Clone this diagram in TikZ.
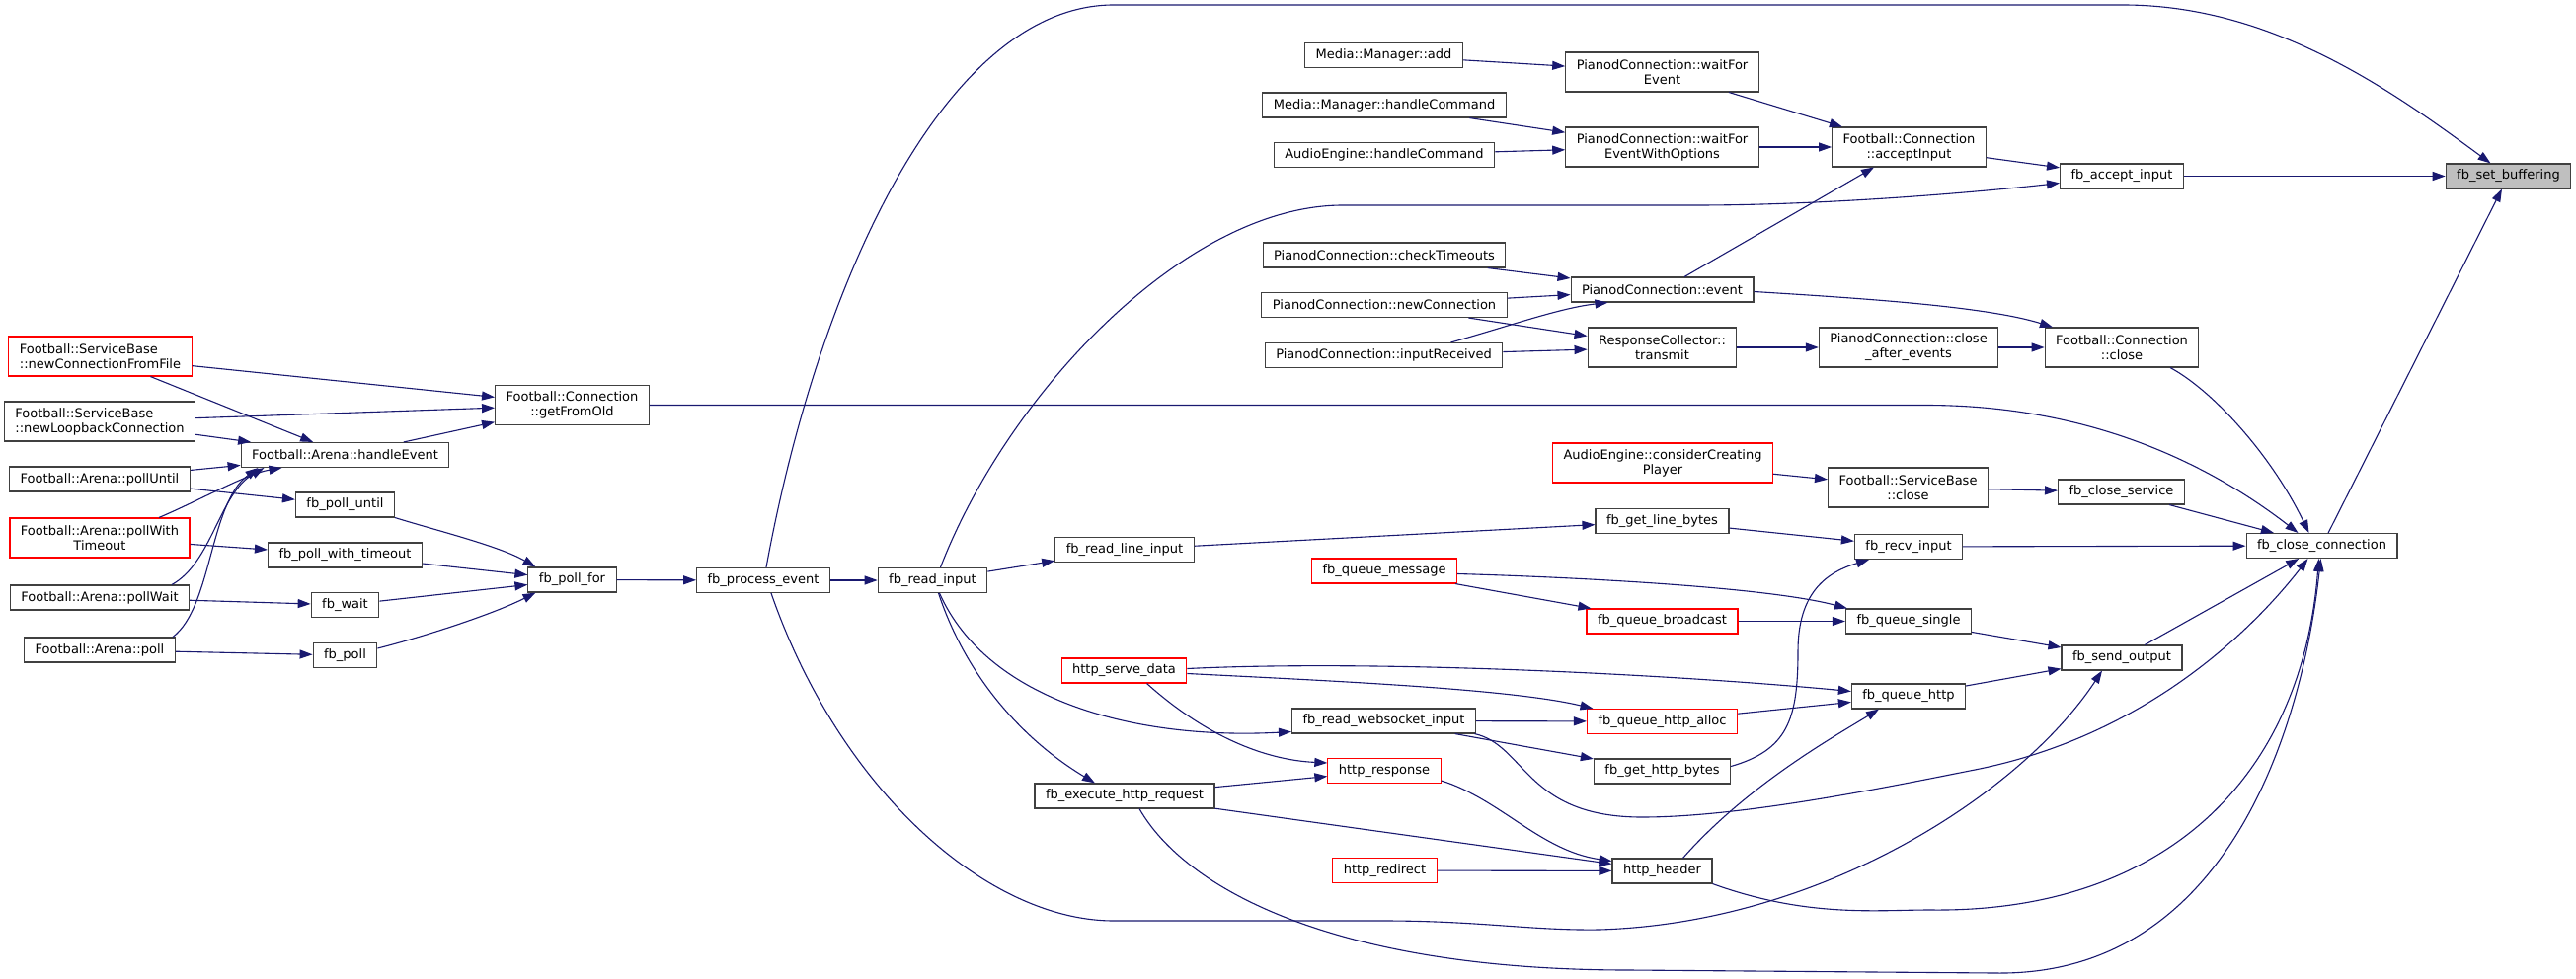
\documentclass[tikz,border=0pt]{standalone}
\usepackage{fontspec}
\setmainfont{DejaVu Sans}
\usetikzlibrary{arrows.meta}
\definecolor{edgeblue}{HTML}{191970}
\tikzset{
	% standard arrow tip
	>={Triangle[length=13pt,width=9pt]},
	% box style
	box/.style={
		rectangle,
		draw=black!75, fill=white, line width=1.1pt,
		font=\fontsize{13pt}{15pt}\selectfont,
		inner xsep=11pt, inner ysep=2pt,
		minimum height=25pt,
		align=center
	},
	tallbox/.style={box, minimum height=40pt},
	truncated/.style={draw=red},
	current/.style={fill=black!25},
	% arrow style
	edge/.style={
		->,
		draw=edgeblue,
		line width=1.1pt
	}
}
\begin{document}
\begin{tikzpicture}[x=1pt,y=-1pt]
	\fill[white] (0,0) rectangle (2609,992);

	\node[box,current] (setbuffering) at (2540.5,178.5) {fb\_set\_buffering};
	\node[box] (fbacceptinput) at (2149,178.5) {fb\_accept\_input};
	\node[tallbox] (acceptinput) at (1933.5,149) {Football::Connection\\::acceptInput};
	\node[tallbox] (waitforevent) at (1683.5,73) {PianodConnection::waitFor\\Event};
	\node[tallbox] (waitforeventopts) at (1683.5,149) {PianodConnection::waitFor\\EventWithOptions};
	\node[box] (manageradd) at (1401.5,56) {Media::Manager::add};
	\node[box] (managercmd) at (1402,106.5) {Media::Manager::handleCommand};
	\node[box] (enginecmd) at (1402,157) {AudioEngine::handleCommand};
	\node[box] (checktimeouts) at (1402,258.5) {PianodConnection::checkTimeouts};
	\node[box] (newconnection) at (1402,309) {PianodConnection::newConnection};
	\node[box] (inputreceived) at (1401.5,360) {PianodConnection::inputReceived};
	\node[box] (pianodevent) at (1683.5,293.5) {PianodConnection::event};
	\node[tallbox] (transmit) at (1683.5,352) {ResponseCollector::\\transmit};
	\node[tallbox] (closeafter) at (1933,352) {PianodConnection::close\\\_after\_events};
	\node[tallbox] (connclose) at (2149,352) {Football::Connection\\::close};
	\node[box] (closeconnection) at (2351.5,553) {fb\_close\_connection};
	\node[box] (closeservice) at (2148.5,498.5) {fb\_close\_service};
	\node[tallbox] (serviceclose) at (1932.5,494) {Football::ServiceBase\\::close};
	\node[tallbox,truncated] (creatingplayer) at (1684,469) {AudioEngine::considerCreating\\Player};
	\node[box] (getlinebytes) at (1683.5,528) {fb\_get\_line\_bytes};
	\node[box] (recvinput) at (1933,554) {fb\_recv\_input};
	\node[box,truncated] (queuebroadcast) at (1683.5,629.5) {fb\_queue\_broadcast};
	\node[box] (queuesingle) at (1933,629.5) {fb\_queue\_single};
	\node[box] (sendoutput) at (2149,666.5) {fb\_send\_output};
	\node[box] (queuehttp) at (1933,705.5) {fb\_queue\_http};
	\node[box,truncated] (queuehttpalloc) at (1683.5,731) {fb\_queue\_http\_alloc};
	\node[box] (gethttpbytes) at (1683.5,781.5) {fb\_get\_http\_bytes};
	\node[box] (httpheader) at (1683.5,882.5) {http\_header};
	\node[box,truncated] (httpredirect) at (1402.5,882) {http\_redirect};
	\node[box,truncated] (httpresponse) at (1402,781) {http\_response};
	\node[box] (websocketinput) at (1401.5,730.5) {fb\_read\_websocket\_input};
	\node[box,truncated] (queuemessage) at (1402,578.5) {fb\_queue\_message};
	\node[box,truncated] (servedata) at (1138.5,679.5) {http\_serve\_data};
	\node[box] (executerequest) at (1139,806.5) {fb\_execute\_http\_request};
	\node[box] (readlineinput) at (1139,557) {fb\_read\_line\_input};
	\node[box] (readinput) at (944.5,588) {fb\_read\_input};
	\node[box] (processevent) at (773,588) {fb\_process\_event};
	\node[box] (pollfor) at (579.5,587.5) {fb\_poll\_for};
	\node[box] (polluntil) at (349.5,511.5) {fb\_poll\_until};
	\node[box] (polltimeout) at (349.5,562.5) {fb\_poll\_with\_timeout};
	\node[box] (fbwait) at (349.5,613) {fb\_wait};
	\node[box] (fbpoll) at (349.5,664) {fb\_poll};
	\node[box] (handleevent) at (349.5,461) {Football::Arena::handleEvent};
	\node[tallbox] (getfromold) at (579.5,410.5) {Football::Connection\\::getFromOld};
	\node[tallbox,truncated,align=left] (fromfile) at (101.5,361) {Football::ServiceBase\\::newConnectionFromFile};
	\node[tallbox,align=left] (loopback) at (101,427) {Football::ServiceBase\\::newLoopbackConnection};
	\node[box] (arenapolluntil) at (101,485.5) {Football::Arena::pollUntil};
	\node[tallbox,truncated] (arenapolltimeout) at (101,545) {Football::Arena::pollWith\\Timeout};
	\node[box] (arenapollwait) at (101,605.5) {Football::Arena::pollWait};
	\node[box] (arenapoll) at (101,658.5) {Football::Arena::poll};

	\draw[edge] (fbacceptinput) -- (setbuffering);
	\draw[edge] (closeconnection) -- (setbuffering);
	\draw[edge] ([xshift=3pt]processevent.north) .. controls (830,280) and (960,5) .. (1128,5) -- (2150,5) .. controls (2300,5) and (2420,90) .. ([xshift=-18pt]setbuffering.north);
	\draw[edge] (acceptinput) -- (fbacceptinput);
	\draw[edge] ([xshift=8pt]readinput.north) .. controls (1020,400) and (1200,208) .. (1360,208) -- (1717,208) .. controls (1850,208) and (2000,195) .. ([yshift=-7pt]fbacceptinput.west);
	\draw[edge] (waitforevent) -- (acceptinput);
	\draw[edge] (waitforeventopts) -- (acceptinput);
	\draw[edge] (pianodevent) -- (acceptinput);
	\draw[edge] (manageradd) -- (waitforevent);
	\draw[edge] (managercmd) -- (waitforeventopts);
	\draw[edge] (enginecmd) -- (waitforeventopts);
	\draw[edge] (checktimeouts) -- (pianodevent);
	\draw[edge] (newconnection) -- (pianodevent);
	\draw[edge] ([xshift=68pt]inputreceived.north) .. controls (1530,330) and (1580,312) .. ([xshift=-55pt]pianodevent.south);
	\draw[edge] (newconnection) -- (transmit);
	\draw[edge] (inputreceived) -- (transmit);
	\draw[edge] (transmit) -- (closeafter);
	\draw[edge] (closeafter) -- (connclose);
	\draw[edge] ([yshift=-2pt]pianodevent.east) .. controls (1880,302) and (2010,310) .. ([xshift=-70pt]connclose.north);
	\draw[edge] ([xshift=49pt]connclose.south) .. controls (2240,395) and (2300,460) .. ([xshift=-13pt]closeconnection.north);
	\draw[edge] (getfromold) -- (1950,410.5) .. controls (2130,410.5) and (2250,480) .. ([xshift=-24pt]closeconnection.north);
	\draw[edge] (closeservice) -- (closeconnection);
	\draw[edge] (fromfile) -- (getfromold);
	\draw[edge] (loopback) -- (getfromold);
	\draw[edge] (handleevent) -- (getfromold);
	\draw[edge] (fromfile) -- (handleevent);
	\draw[edge] (loopback) -- (handleevent);
	\draw[edge] (arenapolluntil) -- (handleevent);
	\draw[edge] ([xshift=60pt]arenapolltimeout.north) .. controls (200,508) and (250,480) .. ([xshift=-64pt]handleevent.south);
	\draw[edge] ([xshift=73pt]arenapollwait.north) .. controls (215,570) and (222,500) .. ([xshift=-82pt]handleevent.south);
	\draw[edge] ([xshift=74pt]arenapoll.north) .. controls (215,615) and (212,510) .. ([xshift=-88pt]handleevent.south);
	\draw[edge] (arenapolluntil) -- (polluntil);
	\draw[edge] (arenapolltimeout) -- (polltimeout);
	\draw[edge] (arenapollwait) -- (fbwait);
	\draw[edge] (arenapoll) -- (fbpoll);
	\draw[edge] (polluntil.south east) .. controls (440,537) and (505,553) .. ([xshift=-37pt]pollfor.north);
	\draw[edge] (polltimeout) -- (pollfor);
	\draw[edge] (fbwait) -- (pollfor);
	\draw[edge] ([yshift=7pt]fbpoll.east) .. controls (430,645) and (500,622) .. ([xshift=-37pt]pollfor.south);
	\draw[edge] (pollfor) -- (processevent);
	\draw[edge] (processevent) -- (readinput);
	\draw[edge] (readinput) -- (readlineinput);
	\draw[edge] (readlineinput) -- (getlinebytes);
	\draw[edge] (getlinebytes) -- (recvinput);
	\draw[edge] (recvinput) -- (closeconnection);
	\draw[edge] (creatingplayer) -- (serviceclose);
	\draw[edge] (serviceclose) -- (closeservice);
	\draw[edge] ([yshift=-3pt]queuemessage.east) .. controls (1600,585) and (1790,595) .. ([xshift=-62pt]queuesingle.north);
	\draw[edge] (queuemessage) -- (queuebroadcast);
	\draw[edge] (queuebroadcast) -- (queuesingle);
	\draw[edge] (queuesingle) -- (sendoutput);
	\draw[edge] (sendoutput) -- (closeconnection);
	\draw[edge] (queuehttp) -- (sendoutput);
	\draw[edge] ([yshift=2pt]servedata.east) .. controls (1400,668) and (1700,684) .. ([yshift=5pt]queuehttp.west);
	\draw[edge] (websocketinput) -- (queuehttpalloc);
	\draw[edge] ([yshift=-3pt]servedata.east) .. controls (1350,690) and (1530,698) .. ([xshift=-70pt]queuehttpalloc.north);
	\draw[edge] (queuehttpalloc) -- (queuehttp);
	\draw[edge] (websocketinput) -- (gethttpbytes);
	\draw[edge] ([yshift=5pt]gethttpbytes.east) .. controls (1810,760) and (1821,730) .. (1821,660) .. controls (1821,600) and (1850,580) .. ([xshift=-40pt]recvinput.south);
	\draw[edge] ([xshift=92pt]websocketinput.south) .. controls (1545,755) and (1545,828) .. (1663,828) .. controls (1760,828) and (1900,800) .. (1995,781) .. controls (2170,748) and (2280,640) .. ([xshift=-14pt]closeconnection.south);
	\draw[edge] ([xshift=21pt]httpheader.north) .. controls (1770,795) and (1860,745) .. ([xshift=-30pt]queuehttp.south);
	\draw[edge] (httpheader.south east) .. controls (1830,930) and (1900,922) .. (1955,922) .. controls (2180,925) and (2330,800) .. ([xshift=-3pt]closeconnection.south);
	\draw[edge] ([xshift=7pt]readinput.south) .. controls (1000,710) and (1150,750) .. ([yshift=-11pt]websocketinput.west);
	\draw[edge] ([xshift=6pt]readinput.south) .. controls (980,690) and (1040,752) .. ([xshift=-30pt]executerequest.north);
	\draw[edge] ([xshift=23pt]servedata.south) .. controls (1220,745) and (1280,770) .. ([yshift=8pt]httpresponse.west);
	\draw[edge] (executerequest) -- (httpresponse);
	\draw[edge] ([yshift=-10pt]httpresponse.east) .. controls (1520,810) and (1560,862) .. ([yshift=10pt]httpheader.west);
	\draw[edge] (executerequest) -- (httpheader);
	\draw[edge] (httpredirect) -- (httpheader);
	\draw[edge] ([xshift=8pt]processevent.south) .. controls (850,800) and (1000,933) .. (1128,933) -- (1400,933) .. controls (1500,933) and (1550,943) .. (1620,942) .. controls (1850,935) and (2050,800) .. ([xshift=-20pt]sendoutput.south);
	\draw[edge] ([xshift=15pt]executerequest.south) .. controls (1200,900) and (1350,983) .. (1650,983) -- (2020,986) .. controls (2250,990) and (2330,750) .. ([xshift=-1pt]closeconnection.south);
\end{tikzpicture}
\end{document}
